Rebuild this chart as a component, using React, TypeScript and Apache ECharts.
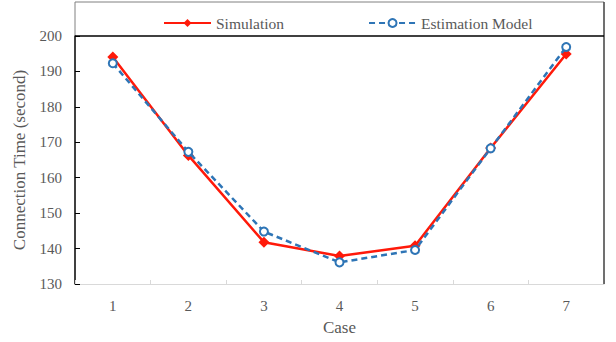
import React, { useEffect, useRef } from "react";
import * as echarts from "echarts";

const cases = ["1", "2", "3", "4", "5", "6", "7"];
const simulation = [194.1, 166.3, 141.8, 137.9, 140.8, 168.4, 194.9];
const estimation = [192.3, 167.3, 144.8, 136.1, 139.6, 168.3, 196.9];
const yMin = 130;
const yMax = 200;
const yStep = 10;

const FONT = "'Liberation Serif', 'Times New Roman', serif";

export default function App() {
  const ref = useRef<HTMLDivElement>(null);
  useEffect(() => {
    if (!ref.current) return;
    const chart = echarts.init(ref.current, undefined, { renderer: "svg" });
    const L = 75, R = 604, T = 36, B = 284, TOP = 2;
    chart.setOption({
      animation: false,
      backgroundColor: "#ffffff",
      textStyle: { fontFamily: FONT },
      grid: { left: L, right: 616 - R, top: T, bottom: 342 - B, containLabel: false },
      legend: {
        left: 158,
        top: 10,
        itemWidth: 47,
        itemHeight: 10,
        itemGap: 84,
        textStyle: { fontFamily: FONT, fontSize: 15.5, color: "#595959" },
        data: ["Simulation", "Estimation Model"],
      },
      xAxis: {
        type: "category",
        data: cases,
        boundaryGap: true,
        name: "Case",
        nameLocation: "middle",
        nameGap: 35,
        nameTextStyle: { fontFamily: FONT, fontSize: 17, color: "#595959" },
        axisLine: { show: true, lineStyle: { color: "#d9d9d9", width: 1 } },
        axisTick: { show: true, inside: true, length: 4, lineStyle: { color: "#d9d9d9" } },
        axisLabel: { fontFamily: FONT, fontSize: 15, color: "#595959", margin: 14 },
        splitLine: { show: false },
      },
      yAxis: {
        type: "value",
        min: yMin,
        max: yMax,
        interval: yStep,
        name: "Connection Time (second)",
        nameLocation: "middle",
        nameGap: 47,
        nameRotate: 90,
        nameTextStyle: { fontFamily: FONT, fontSize: 17, color: "#595959" },
        axisLine: { show: true, lineStyle: { color: "#000000", width: 1.5 } },
        axisTick: { show: true, inside: true, length: 5, lineStyle: { color: "#000000" } },
        axisLabel: { fontFamily: FONT, fontSize: 15, color: "#595959", margin: 13 },
        splitLine: { show: false },
      },
      graphic: [
        { type: "line", shape: { x1: L, y1: TOP, x2: R, y2: TOP }, style: { stroke: "#808080", lineWidth: 1 }, z: 10 },
        { type: "line", shape: { x1: L, y1: TOP, x2: L, y2: T }, style: { stroke: "#808080", lineWidth: 1 }, z: 10 },
        { type: "line", shape: { x1: R, y1: TOP, x2: R, y2: B }, style: { stroke: "#404040", lineWidth: 1.5 }, z: 10 },
        { type: "line", shape: { x1: L, y1: T, x2: R, y2: T }, style: { stroke: "#000000", lineWidth: 1.5 }, z: 10 },
      ],
      series: [
        {
          name: "Simulation",
          type: "line",
          data: simulation,
          symbol: "diamond",
          symbolSize: 11,
          itemStyle: { color: "#ff1a0a" },
          lineStyle: { color: "#ff1a0a", width: 2.5 },
          z: 2,
        },
        {
          name: "Estimation Model",
          type: "line",
          data: estimation,
          symbol: "emptyCircle",
          symbolSize: 8,
          itemStyle: { color: "#2e75b6", borderWidth: 2.5 },
          lineStyle: { color: "#2e75b6", width: 2.5, type: [6, 4] },
          z: 3,
        },
      ],
    });
    return () => chart.dispose();
  }, []);
  return <div ref={ref} style={{ width: 616, height: 342, position: "absolute", left: 0, top: 0 }} />;
}
